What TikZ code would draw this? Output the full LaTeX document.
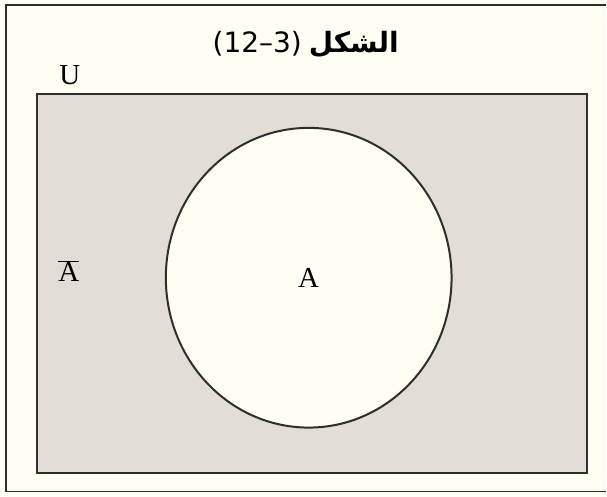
\documentclass[tikz,border=0pt]{standalone}
\usepackage{fontspec}
\setmainfont{Liberation Serif}
\newfontfamily\arabicfont[Script=Arabic]{DejaVu Sans}
\newfontfamily\numfont{DejaVu Sans}
\TeXXeTstate=1
\usetikzlibrary{shapes.geometric}
\definecolor{paper}{HTML}{FFFEF2}
\definecolor{shade}{HTML}{E2DED5}
\definecolor{ink}{HTML}{2E2E2E}
\begin{document}
\begin{tikzpicture}[x=1pt,y=-1pt,font=\fontsize{29}{34}\selectfont,
  setbox/.style={draw=ink,line width=2pt,inner sep=0pt}]
\fill[paper] (0,0) rectangle (607,497);
% page frame, open to the right
\draw[ink,line width=1.2pt] (607,5) -- (6,5) -- (6,492) -- (607,492);
\node (title) at (306,44) {\fontsize{28}{34}\selectfont\beginR{\arabicfont\bfseries الشكل} \beginL{\numfont(12–3)}\endL\endR};
\node (U) at (70,75) {U};
% universe and the set A
\node[setbox,fill=shade,minimum width=551pt,minimum height=379pt] (univ) at (312.5,283.5) {};
\node[setbox,ellipse,fill=paper,minimum width=286pt,minimum height=300pt] (setA) at (309,278) {A};
\node (Abar) at (69,271) {$\overline{\mbox{A}}$};
\end{tikzpicture}
\end{document}
